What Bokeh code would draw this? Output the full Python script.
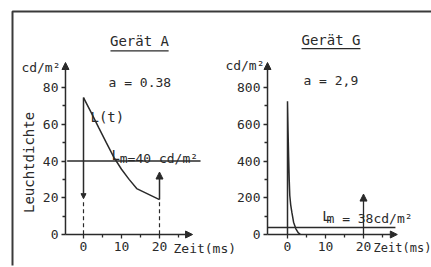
import math
from bokeh.plotting import figure
from bokeh.models import Range1d, LinearAxis, FixedTicker, Arrow, NormalHead
from bokeh.core.properties import value
from bokeh.embed import file_html
from bokeh.resources import INLINE

# ---------------- data ----------------
period = 20                       # ms
x_ticks = [0, 10, 20]
x_minor = [5, 15, 25]

# Gerät A
a_t = [0, 2, 4, 6, 8, 10, 12, 14, 20]
a_L = [74.5, 66.5, 58.2, 50.0, 42.0, 35.5, 30.0, 25.0, 19.0]
a_Lm = 40
a_factor = "0.38"
a_rise_top = 34
a_yticks = [0, 20, 40, 60, 80]
a_yminor = [10, 30, 50, 70]

# Gerät G
g_t = [0, 0.15, 0.3, 0.45, 0.6, 0.85, 1.15, 1.6, 2.2, 2.8, 3.4]
g_L = [725, 560, 420, 300, 212, 160, 120, 67, 31, 10, 0]
g_Lm = 38
g_factor = "2,9"
g_rise_top = 220
g_yticks = [0, 200, 400, 600, 800]
g_yminor = [100, 300, 500, 700]

# ---------------- layout ----------------
W, H = 431, 267
SX = 3.8                 # px per ms
A_X0, G_X0 = 83, 287     # canvas px of t = 0 in each panel
Y0 = 33                  # canvas px (from bottom) of L = 0
SY_A, SY_G = 1.8375, 0.18375
INK = "#2a2a2a"
FONT = "DejaVu Sans Mono"

p = figure(width=W, height=H, title=None,
           x_range=Range1d(-A_X0 / SX, (W - A_X0) / SX),
           y_range=Range1d(-Y0 / SY_A, (H - Y0) / SY_A),
           x_axis_type=None, y_axis_type=None,
           output_backend="svg", toolbar_location=None, min_border=0)
p.extra_x_ranges = {"g": Range1d(-G_X0 / SX, (W - G_X0) / SX)}
p.extra_y_ranges = {"g": Range1d(-Y0 / SY_G, (H - Y0) / SY_G)}
p.outline_line_color = None
p.background_fill_color = "white"
p.border_fill_color = "white"

a_yaxis_at = -4.74
g_yaxis_at = -5.26


def axes(rng, yloc, yt, ym, ytop):
    ay = LinearAxis(x_range_name=rng, y_range_name=rng, fixed_location=yloc,
                    bounds=(0, ytop), ticker=FixedTicker(ticks=yt, minor_ticks=ym))
    ax = LinearAxis(x_range_name=rng, y_range_name=rng, fixed_location=0,
                    bounds=(yloc, 26), ticker=FixedTicker(ticks=x_ticks, minor_ticks=x_minor))
    for a in (ay, ax):
        a.axis_line_color = None
        a.major_tick_in = 0
        a.major_tick_out = 4
        a.minor_tick_in = 0
        a.minor_tick_out = 3
        a.major_tick_line_color = INK
        a.minor_tick_line_color = INK
        a.major_tick_line_width = 1.3
        a.minor_tick_line_width = 1.3
        a.major_label_text_font = FONT
        a.major_label_text_font_size = "13px"
        a.major_label_text_color = INK
        a.major_label_standoff = 3
    p.add_layout(ay, "left")
    p.add_layout(ax, "below")


def arrow(x0, y0, x1, y1, rng="default", size=7, width=1.5):
    p.add_layout(Arrow(x_start=x0, y_start=y0, x_end=x1, y_end=y1,
                       x_range_name=rng, y_range_name=rng,
                       line_color=INK, line_width=width,
                       end=NormalHead(size=size, fill_color=INK, line_color=INK, line_width=1)))


def txt(x, y, s, rng="default", size="13px", align="left", baseline="middle", angle=0.0):
    p.text(x=[x], y=[y], text=[s], x_range_name=rng, y_range_name=rng,
           text_font=value(FONT), text_font_size=value(size), text_color=INK,
           text_align=align, text_baseline=baseline, angle=angle)


# frame lines (top and left)
bx = (12 - A_X0) / SX
by_top = (H - 11 - Y0) / SY_A
by_bot = (H - 265 - Y0) / SY_A
p.line([bx, bx, p.x_range.end], [by_bot, by_top, by_top], line_color="#3a3a3a", line_width=2)

# ---------- panel A ----------
axes("default", a_yaxis_at, a_yticks, a_yminor, 85)
arrow(a_yaxis_at, 0, a_yaxis_at, 93.6)
arrow(a_yaxis_at, 0, 28.7, 0)
p.line(a_t, a_L, line_color=INK, line_width=1.5)
arrow(0, a_L[0], 0, a_L[-1] + 0.5, size=5, width=1.5)
arrow(period, a_L[-1], period, a_rise_top, size=7, width=1.5)
p.segment(x0=[0, period], y0=[a_L[-1] - 1.5] * 2, x1=[0, period], y1=[0, 0],
          line_color=INK, line_width=1.2, line_dash="4 3")
p.line([-4.3, 30.8], [a_Lm, a_Lm], line_color=INK, line_width=1.3)

txt(14.74, 105.2, "Gerät A", size="14px", align="center")
p.line([7.1, 22.4], [99.9, 99.9], line_color=INK, line_width=1.2)
txt(-6.05, 90.9, "cd/m²", align="right")
txt(6.58, 82.7, "a = " + a_factor)
txt(1.84, 63.7, "L(t)", size="14px")
txt(7.37, 43.0, "L", size="14px", baseline="alphabetic")
txt(9.55, 41.2, "m=%d cd/m²" % a_Lm, baseline="alphabetic")
txt(-14.47, 39.2, "Leuchtdichte", size="14px", align="center", angle=math.pi / 2)
txt(23.68, -7.6, "Zeit(ms)")

# ---------- panel G ----------
axes("g", g_yaxis_at, g_yticks, g_yminor, 850)
arrow(g_yaxis_at, 0, g_yaxis_at, 936, rng="g")
arrow(g_yaxis_at, 0, 28.9, 0, rng="g")
p.line([0] + g_t, [0] + g_L, x_range_name="g", y_range_name="g", line_color=INK, line_width=1.5)
arrow(period, 0, period, g_rise_top, rng="g", size=7, width=1.3)
p.line([g_yaxis_at, 28.4], [g_Lm, g_Lm], x_range_name="g", y_range_name="g",
       line_color=INK, line_width=1.3)

txt(11.45, 1055.8, "Gerät G", rng="g", size="14px", align="center")
p.line([3.7, 19.2], [1012, 1012], x_range_name="g", y_range_name="g", line_color=INK, line_width=1.2)
txt(-6.05, 920, "cd/m²", rng="g", align="right")
txt(4.2, 838, "a = " + g_factor, rng="g")
txt(9.13, 103.4, "L", rng="g", size="14px", baseline="alphabetic")
txt(10.26, 85.4, "m = %dcd/m²" % g_Lm, rng="g", baseline="alphabetic")
txt(22.65, -76, "Zeit(ms)", rng="g", size="12px")

open("out.html", "w").write(file_html(p, INLINE))
